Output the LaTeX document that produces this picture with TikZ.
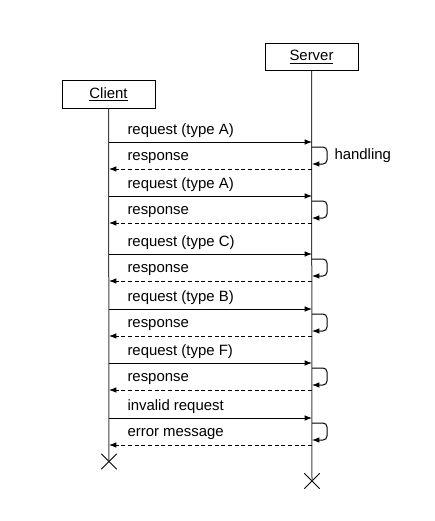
\documentclass[tikz,border=0pt]{standalone}
\usepackage{fontspec}
\setmainfont{Liberation Sans}
\usetikzlibrary{arrows.meta,shapes.misc}
\begin{document}
\begin{tikzpicture}[x=0.75pt,y=-0.75pt,font=\fontsize{11.2}{13}\selectfont,line width=.75pt,
actor/.style={draw,minimum width=69.75pt,minimum height=20.5pt,inner sep=0pt},
life/.style={draw=black!75},
msg/.style={-{Latex[length=5.5pt,width=4.2pt]}},
reply/.style={msg,dashed,dash pattern=on 3pt off 2pt},
self/.style={msg,rounded corners=3pt},
lbl/.style={anchor=west,inner sep=0pt},
endmark/.style={cross out,draw,minimum size=11pt,inner sep=0pt,line width=.6pt}]
\useasboundingbox (0,0) rectangle (435,521);
\node[actor] (server) at (311.5,57) {\underline{Server}};
\node[actor] (client) at (108.5,94.5) {\underline{Client}};
\node[endmark] (clientend) at (109,461.5) {};
\node[endmark] (serverend) at (312,481) {};
\draw[life] (client) -- (clientend.center);
\draw[life] (server) -- (serverend.center);
\foreach \n/\y/\req/\resp in {1/142/request (type A)/response,2/196/request (type A)/response,3/254/request (type C)/response,4/309/request (type B)/response,5/363/request (type F)/response,6/418/invalid request/error message}{
  \coordinate (q\n) at (109,\y);
  \coordinate (s\n) at (312,\y);
  \coordinate (r\n) at (312,\y+27);
  \coordinate (p\n) at (109,\y+27);
  \draw[msg] (q\n) -- (s\n);
  \node[lbl] (reqlbl\n) at (127,\y-11) {\req};
  \draw[self] (s\n) ++(0,5) -- ++(15,0) -- ++(0,17) -- ++(-15,0);
  \draw[reply] (r\n) -- (p\n);
  \node[lbl] (resplbl\n) at (127,\y+16) {\resp};
}
\node[lbl] (handling) at (334,156) {handling};
\end{tikzpicture}
\end{document}
